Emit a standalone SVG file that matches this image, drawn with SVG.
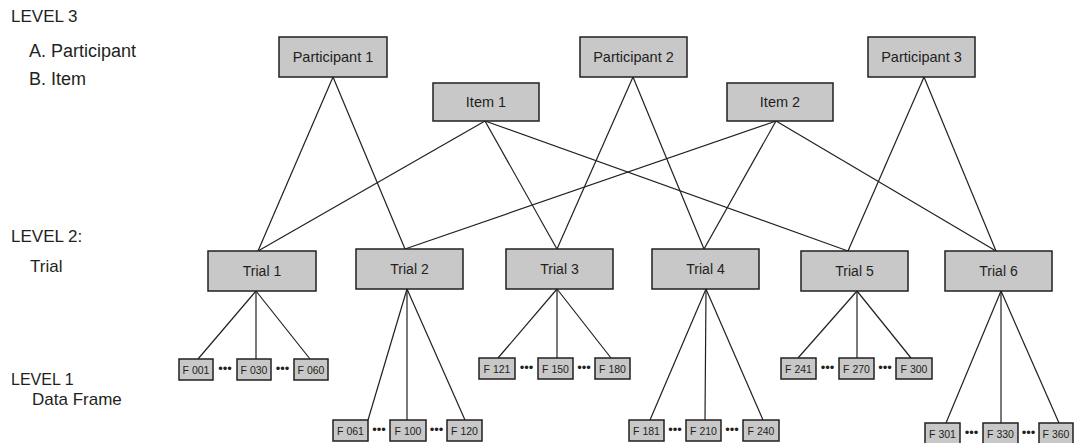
<svg xmlns="http://www.w3.org/2000/svg" width="1074" height="443" viewBox="0 0 1074 443">
<style>
  .box{fill:#c8c8c8;stroke:#231f20;stroke-width:1.5}
  .lbl{font-family:"Liberation Sans",Arial,sans-serif;fill:#231f20;text-anchor:middle}
  .l3{font-size:14.5px}
  .l2{font-size:14px}
  .l1{font-size:10.5px}
  .side{font-family:"Liberation Sans",Arial,sans-serif;font-size:17px;fill:#231f20}
  .side.big{font-size:18px}
  .side.sm{font-size:16px}
  .dots{font-family:"Liberation Sans",Arial,sans-serif;font-size:13px;fill:#231f20;text-anchor:middle}
  .conn line{stroke:#231f20;stroke-width:1.2}
</style>
<rect width="1074" height="443" fill="#fff"/>
<g id="side-labels">
  <text class="side" x="11" y="22">LEVEL 3</text>
  <text class="side big" x="29" y="57">A. Participant</text>
  <text class="side big" x="29" y="85">B. Item</text>
  <text class="side" x="11" y="242">LEVEL 2:</text>
  <text class="side" x="30" y="272">Trial</text>
  <text class="side sm" x="11" y="385">LEVEL 1</text>
  <text class="side" x="32" y="405">Data Frame</text>
</g>
<g id="connectors" class="conn">
  <line x1="333" y1="77" x2="258" y2="251"/>
  <line x1="333" y1="77" x2="405" y2="249"/>
  <line x1="633" y1="77" x2="557" y2="249"/>
  <line x1="633" y1="77" x2="704" y2="249"/>
  <line x1="924" y1="77" x2="848" y2="251"/>
  <line x1="924" y1="77" x2="996" y2="251"/>
  <line x1="485" y1="121" x2="258" y2="251"/>
  <line x1="485" y1="121" x2="557" y2="249"/>
  <line x1="485" y1="121" x2="848" y2="251"/>
  <line x1="776" y1="121" x2="405" y2="249"/>
  <line x1="776" y1="121" x2="704" y2="249"/>
  <line x1="776" y1="121" x2="996" y2="251"/>
  <line x1="256" y1="291" x2="198" y2="359"/>
  <line x1="256" y1="291" x2="256" y2="359"/>
  <line x1="256" y1="291" x2="310" y2="359"/>
  <line x1="407" y1="289" x2="368" y2="420"/>
  <line x1="407" y1="289" x2="407" y2="420"/>
  <line x1="407" y1="289" x2="465" y2="420"/>
  <line x1="557" y1="289" x2="498" y2="358"/>
  <line x1="557" y1="289" x2="557" y2="358"/>
  <line x1="557" y1="289" x2="611" y2="358"/>
  <line x1="706" y1="289" x2="650" y2="420"/>
  <line x1="706" y1="289" x2="705" y2="420"/>
  <line x1="706" y1="289" x2="763" y2="420"/>
  <line x1="857" y1="291" x2="798" y2="358"/>
  <line x1="857" y1="291" x2="857" y2="358"/>
  <line x1="857" y1="291" x2="911" y2="358"/>
  <line x1="1001" y1="291" x2="946" y2="423"/>
  <line x1="1001" y1="291" x2="1001" y2="423"/>
  <line x1="1001" y1="291" x2="1059" y2="423"/>
</g>
<g id="participant1"><rect class="box" x="279" y="37" width="108" height="40"/><text class="lbl l3" x="333" y="62">Participant 1</text></g>
<g id="participant2"><rect class="box" x="580" y="37" width="107" height="40"/><text class="lbl l3" x="633.5" y="62">Participant 2</text></g>
<g id="participant3"><rect class="box" x="868" y="37" width="107" height="40"/><text class="lbl l3" x="921.5" y="62">Participant 3</text></g>
<g id="item1"><rect class="box" x="433" y="83" width="106" height="38"/><text class="lbl l3" x="486" y="107">Item 1</text></g>
<g id="item2"><rect class="box" x="727" y="83" width="106" height="38"/><text class="lbl l3" x="780" y="107">Item 2</text></g>
<g id="trial1"><rect class="box" x="208" y="251" width="108" height="40"/><text class="lbl l2" x="262" y="276">Trial 1</text></g>
<g id="trial2"><rect class="box" x="356" y="249" width="107" height="40"/><text class="lbl l2" x="409.5" y="274">Trial 2</text></g>
<g id="trial3"><rect class="box" x="506" y="249" width="107" height="40"/><text class="lbl l2" x="559.5" y="274">Trial 3</text></g>
<g id="trial4"><rect class="box" x="652" y="249" width="107" height="40"/><text class="lbl l2" x="705.5" y="274">Trial 4</text></g>
<g id="trial5"><rect class="box" x="801" y="251" width="107" height="40"/><text class="lbl l2" x="854.5" y="276">Trial 5</text></g>
<g id="trial6"><rect class="box" x="945" y="251" width="107" height="40"/><text class="lbl l2" x="998.5" y="276">Trial 6</text></g>
<g id="frames-trial1">
  <rect class="box" x="179" y="359" width="34" height="21"/><text class="lbl l1" x="196" y="373.5">F 001</text>
  <text class="dots" x="225" y="373">•••</text>
  <rect class="box" x="237" y="359" width="34" height="21"/><text class="lbl l1" x="254" y="373.5">F 030</text>
  <text class="dots" x="282.5" y="373">•••</text>
  <rect class="box" x="294" y="359" width="34" height="21"/><text class="lbl l1" x="311" y="373.5">F 060</text>
</g>
<g id="frames-trial2">
  <rect class="box" x="333" y="420" width="35" height="21"/><text class="lbl l1" x="350.5" y="434.5">F 061</text>
  <text class="dots" x="379" y="434">•••</text>
  <rect class="box" x="390" y="420" width="36" height="21"/><text class="lbl l1" x="408" y="434.5">F 100</text>
  <text class="dots" x="436.5" y="434">•••</text>
  <rect class="box" x="447" y="420" width="35" height="21"/><text class="lbl l1" x="464.5" y="434.5">F 120</text>
</g>
<g id="frames-trial3">
  <rect class="box" x="479" y="358" width="36" height="21"/><text class="lbl l1" x="497" y="372.5">F 121</text>
  <text class="dots" x="526.5" y="372">•••</text>
  <rect class="box" x="538" y="358" width="35" height="21"/><text class="lbl l1" x="555.5" y="372.5">F 150</text>
  <text class="dots" x="584" y="372">•••</text>
  <rect class="box" x="595" y="358" width="35" height="21"/><text class="lbl l1" x="612.5" y="372.5">F 180</text>
</g>
<g id="frames-trial4">
  <rect class="box" x="629" y="420" width="35" height="21"/><text class="lbl l1" x="646.5" y="434.5">F 181</text>
  <text class="dots" x="675" y="434">•••</text>
  <rect class="box" x="686" y="420" width="35" height="21"/><text class="lbl l1" x="703.5" y="434.5">F 210</text>
  <text class="dots" x="732" y="434">•••</text>
  <rect class="box" x="743" y="420" width="36" height="21"/><text class="lbl l1" x="761" y="434.5">F 240</text>
</g>
<g id="frames-trial5">
  <rect class="box" x="781" y="358" width="35" height="21"/><text class="lbl l1" x="798.5" y="372.5">F 241</text>
  <text class="dots" x="827.5" y="372">•••</text>
  <rect class="box" x="839" y="358" width="35" height="21"/><text class="lbl l1" x="856.5" y="372.5">F 270</text>
  <text class="dots" x="885" y="372">•••</text>
  <rect class="box" x="896" y="358" width="36" height="21"/><text class="lbl l1" x="914" y="372.5">F 300</text>
</g>
<g id="frames-trial6">
  <rect class="box" x="925" y="423" width="35" height="22"/><text class="lbl l1" x="942.5" y="437.5">F 301</text>
  <text class="dots" x="971.5" y="437">•••</text>
  <rect class="box" x="983" y="423" width="35" height="22"/><text class="lbl l1" x="1000.5" y="437.5">F 330</text>
  <text class="dots" x="1028.5" y="437">•••</text>
  <rect class="box" x="1039" y="423" width="34" height="22"/><text class="lbl l1" x="1056" y="437.5">F 360</text>
</g>
</svg>
